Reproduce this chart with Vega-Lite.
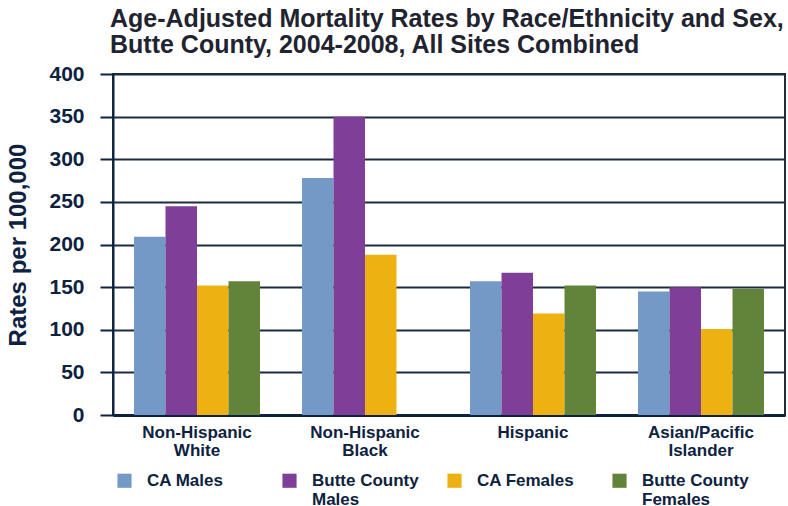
{
  "$schema": "https://vega.github.io/schema/vega-lite/v6.json",
  "width": 672,
  "height": 341,
  "autosize": {"type": "none"},
  "padding": {"left": 113, "top": 74, "right": 3, "bottom": 91},
  "background": "white",
  "title": {
    "text": ["Age-Adjusted Mortality Rates by Race/Ethnicity and Sex,", "Butte County, 2004-2008, All Sites Combined"],
    "anchor": "start",
    "frame": "group",
    "font": "Liberation Sans",
    "fontSize": 25,
    "fontWeight": "bold",
    "color": "#1f2430",
    "lineHeight": 26,
    "offset": 5,
    "dx": -3
  },
  "data": {
    "values": [
      {"group": "Non-Hispanic White", "series": "CA Males", "rate": 209},
      {"group": "Non-Hispanic White", "series": "Butte County Males", "rate": 245},
      {"group": "Non-Hispanic White", "series": "CA Females", "rate": 152},
      {"group": "Non-Hispanic White", "series": "Butte County Females", "rate": 157},
      {"group": "Non-Hispanic Black", "series": "CA Males", "rate": 278},
      {"group": "Non-Hispanic Black", "series": "Butte County Males", "rate": 350},
      {"group": "Non-Hispanic Black", "series": "CA Females", "rate": 188},
      {"group": "Hispanic", "series": "CA Males", "rate": 157},
      {"group": "Hispanic", "series": "Butte County Males", "rate": 167},
      {"group": "Hispanic", "series": "CA Females", "rate": 119},
      {"group": "Hispanic", "series": "Butte County Females", "rate": 152},
      {"group": "Asian/Pacific Islander", "series": "CA Males", "rate": 145},
      {"group": "Asian/Pacific Islander", "series": "Butte County Males", "rate": 150},
      {"group": "Asian/Pacific Islander", "series": "CA Females", "rate": 101},
      {"group": "Asian/Pacific Islander", "series": "Butte County Females", "rate": 148}
    ]
  },
  "mark": {"type": "bar"},
  "encoding": {
    "x": {
      "field": "group",
      "type": "nominal",
      "sort": ["Non-Hispanic White", "Non-Hispanic Black", "Hispanic", "Asian/Pacific Islander"],
      "scale": {"paddingInner": 0.25, "paddingOuter": 0.125},
      "axis": {
        "title": null,
        "labelAngle": 0,
        "labelExpr": "split(datum.label, ' ')",
        "labelFont": "Liberation Sans",
        "labelFontSize": 17,
        "labelFontWeight": "bold",
        "labelColor": "#0d2240",
        "labelLineHeight": 18,
        "labelPadding": 9,
        "ticks": false,
        "domainColor": "#0d2240",
        "domainWidth": 3,
        "grid": false
      }
    },
    "xOffset": {
      "field": "series",
      "type": "nominal",
      "sort": ["CA Males", "Butte County Males", "CA Females", "Butte County Females"]
    },
    "y": {
      "field": "rate",
      "type": "quantitative",
      "scale": {"domain": [0, 400], "nice": false},
      "axis": {
        "title": "Rates per 100,000",
        "titleFont": "Liberation Sans",
        "titleFontSize": 24,
        "titleFontWeight": "bold",
        "titleColor": "#0d2240",
        "titlePadding": 18,
        "values": [0, 50, 100, 150, 200, 250, 300, 350, 400],
        "labelFont": "Liberation Sans",
        "labelFontSize": 21,
        "labelFontWeight": "bold",
        "labelColor": "#0d2240",
        "labelPadding": 16,
        "tickSize": 13,
        "tickWidth": 2,
        "tickColor": "#0d2240",
        "domainColor": "#0d2240",
        "domainWidth": 2,
        "gridColor": "#1c2c3e",
        "gridWidth": 2,
        "gridOpacity": 1
      }
    },
    "color": {
      "field": "series",
      "type": "nominal",
      "sort": ["CA Males", "Butte County Males", "CA Females", "Butte County Females"],
      "scale": {
        "domain": ["CA Males", "Butte County Males", "CA Females", "Butte County Females"],
        "range": ["#7399c6", "#7f3f98", "#edb111", "#62833a"]
      },
      "legend": {
        "title": null,
        "orient": "none",
        "direction": "horizontal",
        "legendX": 3,
        "legendY": 398,
        "columns": 4,
        "gridAlign": "all",
        "columnPadding": 27,
        "symbolType": "square",
        "symbolSize": 200,
        "symbolStrokeWidth": 0,
        "labelOffset": 14,
        "labelFont": "Liberation Sans",
        "labelFontSize": 17,
        "labelFontWeight": "bold",
        "labelColor": "#0d2240",
        "labelLineHeight": 17,
        "labelBaseline": "middle",
        "labelExpr": "indexof(datum.label, 'County ') >= 0 ? ['Butte County', replace(datum.label, 'Butte County ', '')] : [datum.label, '']"
      }
    }
  },
  "config": {
    "view": {"stroke": "#1c2c3e", "strokeWidth": 2},
    "bar": {"stroke": null}
  }
}
